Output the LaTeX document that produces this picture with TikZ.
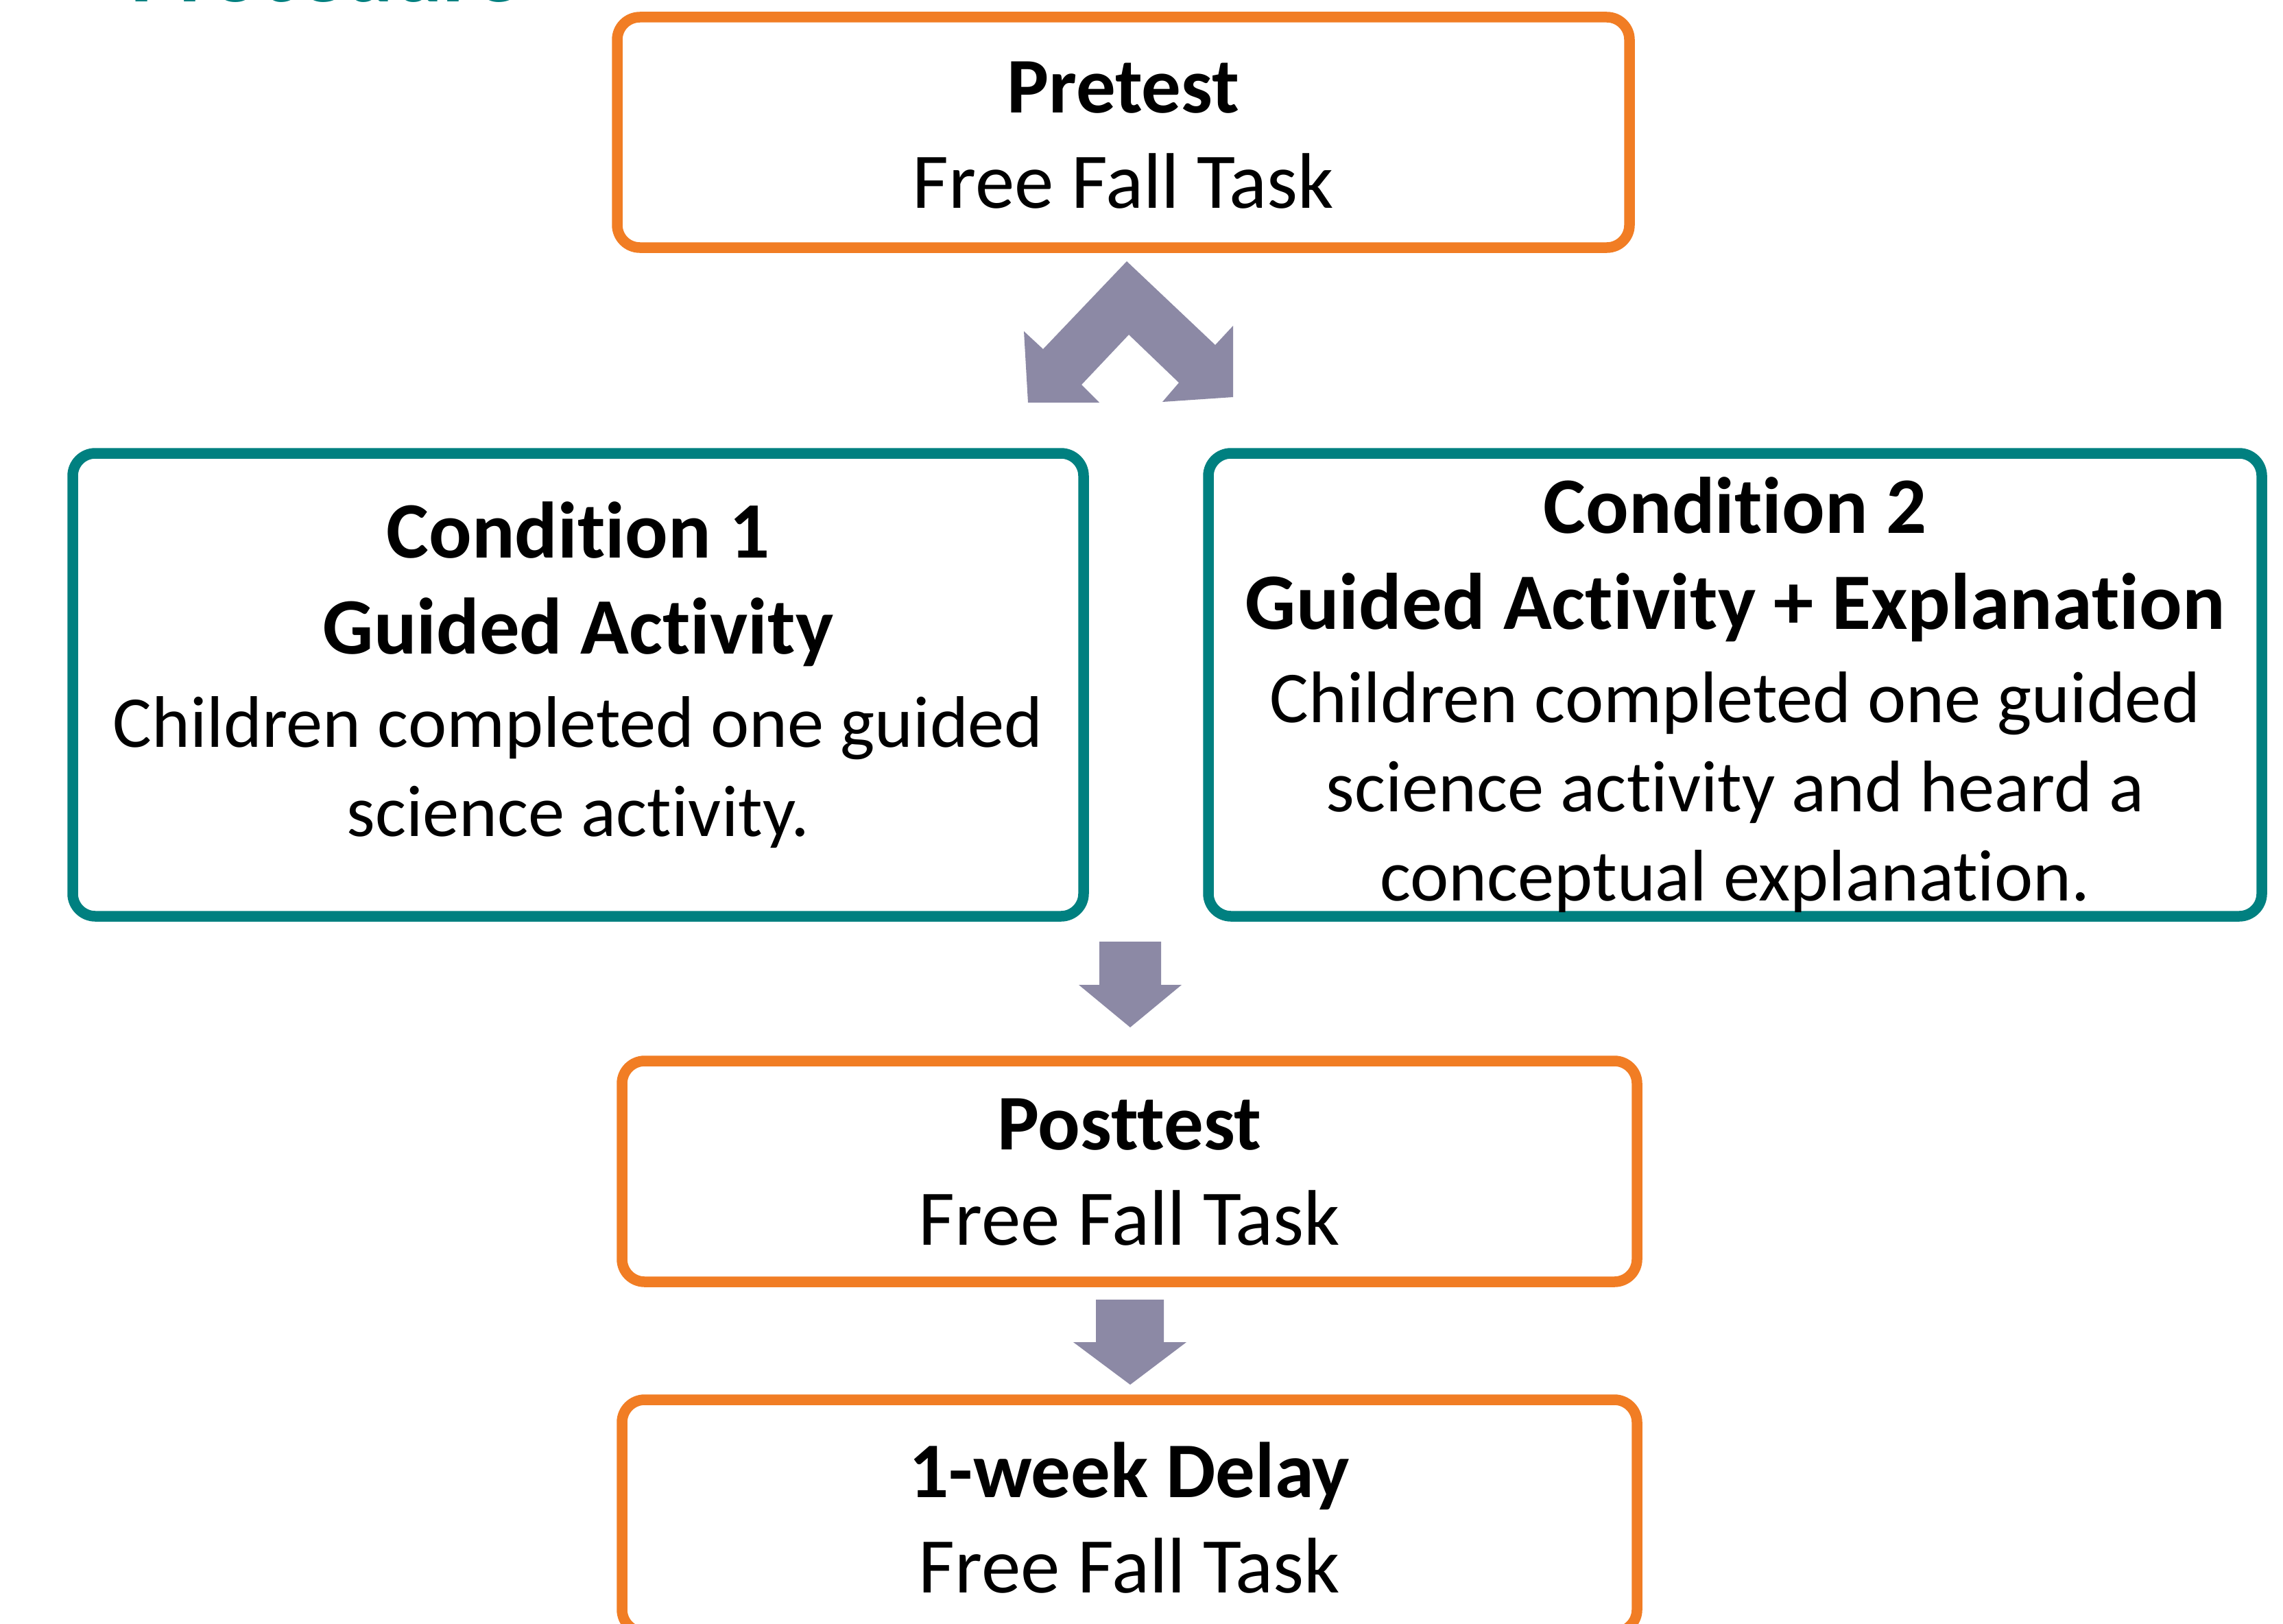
\documentclass[tikz,border=0pt]{standalone}
\usepackage{fontspec}
\setmainfont{Carlito}[Ligatures=NoCommon]
\usetikzlibrary{calc}
\definecolor{boxorange}{RGB}{241,125,36}
\definecolor{boxteal}{RGB}{0,128,128}
\definecolor{arrowgray}{RGB}{140,137,165}
\tikzset{
  obox/.style={draw=boxorange, line width=0.155cm, rounded corners=0.33cm, rectangle, inner sep=0pt},
  tbox/.style={draw=boxteal, line width=0.155cm, rounded corners=0.33cm, rectangle, inner sep=0pt},
  bigtxt/.style={align=center, inner sep=0pt, font=\fontsize{32.7}{39.7}\selectfont},
  condtxt/.style={align=center, inner sep=0pt, font=\fontsize{30.3}{37}\selectfont},
  blockarrow/.style={fill=arrowgray, draw=none}
}
\begin{document}
\begin{tikzpicture}
\useasboundingbox (0,0) rectangle (33.29,-23.67);
\fill[white] (0,0) rectangle (33.29,-23.67);

% cut-off title
\node[anchor=base west, inner sep=0pt, text=boxteal, font=\fontsize{38}{44}\selectfont\bfseries] (title) at (1.90,-0.03) {Procedure};

% boxes
\node[obox, minimum width=14.76cm, minimum height=3.36cm] (pre) at (16.38,-1.93) {};
\node[tbox, minimum width=14.74cm, minimum height=6.75cm] (c1) at (8.43,-9.985) {};
\node[tbox, minimum width=15.36cm, minimum height=6.75cm] (c2) at (25.30,-9.985) {};
\node[obox, minimum width=14.80cm, minimum height=3.22cm] (post) at (16.47,-17.08) {};
\node[obox, minimum width=14.80cm, minimum height=3.39cm] (delay) at (16.47,-22.105) {};

% texts
\node[bigtxt] (pretxt) at (16.38,-1.97) {\textbf{Pretest}\\Free Fall Task};
\node[condtxt] (c1txt) at (8.43,-9.84) {{\fontsize{33.2}{37}\selectfont\bfseries Condition 1}\\[3pt]{\fontsize{33.2}{37}\selectfont\bfseries Guided Activity}\\[1.5pt]Children completed one guided\\science activity.};
\node[condtxt] (c2txt) at (25.30,-10.13) {{\fontsize{33.2}{37}\selectfont\bfseries Condition 2}\\[3pt]{\fontsize{33.2}{37}\selectfont\bfseries Guided Activity + Explanation}\\[1.5pt]Children completed one guided\\science activity and heard a\\conceptual explanation.};
\node[bigtxt] (posttxt) at (16.47,-17.09) {\textbf{Posttest}\\Free Fall Task};
\node[bigtxt] (delaytxt) at (16.47,-22.13) {\textbf{1-week Delay}\\Free Fall Task};

% split chevron arrow (pretest to conditions)
\fill[blockarrow] (16.43,-3.81) -- (17.72,-5.03) -- (17.98,-4.75) -- (17.98,-5.79)
  -- (16.95,-5.86) -- (17.19,-5.58) -- (16.46,-4.88) -- (15.77,-5.61)
  -- (16.03,-5.87) -- (14.99,-5.87) -- (14.93,-4.83) -- (15.21,-5.09) -- cycle;

% down arrow conditions -> posttest
\fill[blockarrow] (16.03,-13.73) -- (16.93,-13.73) -- (16.93,-14.36) -- (17.23,-14.36)
  -- (16.48,-14.98) -- (15.73,-14.36) -- (16.03,-14.36) -- cycle;

% down arrow posttest -> delay
\fill[blockarrow] (15.98,-18.95) -- (16.97,-18.95) -- (16.97,-19.57) -- (17.30,-19.57)
  -- (16.48,-20.19) -- (15.65,-19.57) -- (15.98,-19.57) -- cycle;
\end{tikzpicture}
\end{document}
